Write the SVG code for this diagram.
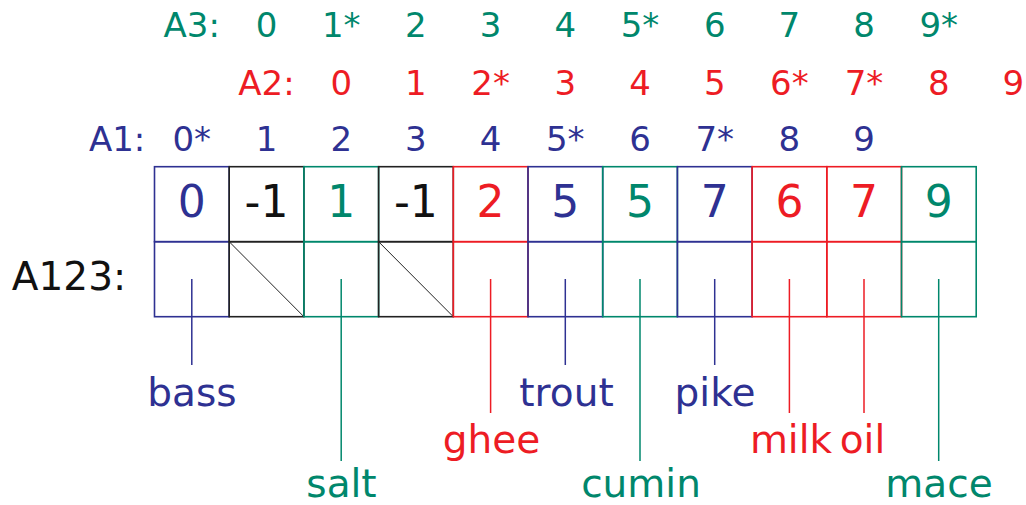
<svg xmlns="http://www.w3.org/2000/svg" width="1026" height="505" viewBox="0 0 1026 505">
<style>
text{font-family:"DejaVu Sans","Liberation Sans",sans-serif;text-anchor:middle}
.idx{font-size:34px}
.val{font-size:44px}
.lab{font-size:39px}
.b{fill:#2e3192}.g{fill:#00876c}.r{fill:#ed1c24}.k{fill:#111}
.cb{stroke:#2e3192}.cg{stroke:#00876c}.cr{stroke:#ed1c24}.ck{stroke:#222}
rect{fill:none;stroke-width:1.6}
line{stroke-width:1.5}
</style>
<g id="row-A3">
<text class="idx g" x="191.8" y="37">A3:</text>
<text class="idx g" x="266.5" y="37">0</text>
<text class="idx g" x="341.2" y="37">1*</text>
<text class="idx g" x="415.9" y="37">2</text>
<text class="idx g" x="490.6" y="37">3</text>
<text class="idx g" x="565.3" y="37">4</text>
<text class="idx g" x="640" y="37">5*</text>
<text class="idx g" x="714.7" y="37">6</text>
<text class="idx g" x="789.4" y="37">7</text>
<text class="idx g" x="864" y="37">8</text>
<text class="idx g" x="938.7" y="37">9*</text>
</g>
<g id="row-A2">
<text class="idx r" x="266.5" y="95">A2:</text>
<text class="idx r" x="341.2" y="95">0</text>
<text class="idx r" x="415.9" y="95">1</text>
<text class="idx r" x="490.6" y="95">2*</text>
<text class="idx r" x="565.3" y="95">3</text>
<text class="idx r" x="640" y="95">4</text>
<text class="idx r" x="714.7" y="95">5</text>
<text class="idx r" x="789.4" y="95">6*</text>
<text class="idx r" x="864" y="95">7*</text>
<text class="idx r" x="938.7" y="95">8</text>
<text class="idx r" x="1013.4" y="95">9</text>
</g>
<g id="row-A1">
<text class="idx b" x="117.1" y="151">A1:</text>
<text class="idx b" x="191.8" y="151">0*</text>
<text class="idx b" x="266.5" y="151">1</text>
<text class="idx b" x="341.2" y="151">2</text>
<text class="idx b" x="415.9" y="151">3</text>
<text class="idx b" x="490.6" y="151">4</text>
<text class="idx b" x="565.3" y="151">5*</text>
<text class="idx b" x="640" y="151">6</text>
<text class="idx b" x="714.7" y="151">7*</text>
<text class="idx b" x="789.4" y="151">8</text>
<text class="idx b" x="864" y="151">9</text>
</g>
<g id="label-A123"><text class="k" x="69" y="290" style="font-size:39px">A123:</text></g>
<g id="connectors">
<line class="cb" x1="191.8" y1="279" x2="191.8" y2="365"/>
<line class="cg" x1="341.2" y1="279" x2="341.2" y2="461"/>
<line class="cr" x1="490.6" y1="279" x2="490.6" y2="413"/>
<line class="cb" x1="565.3" y1="279" x2="565.3" y2="365"/>
<line class="cg" x1="640" y1="279" x2="640" y2="461"/>
<line class="cb" x1="714.7" y1="279" x2="714.7" y2="365"/>
<line class="cr" x1="789.4" y1="279" x2="789.4" y2="413"/>
<line class="cr" x1="864" y1="279" x2="864" y2="413"/>
<line class="cg" x1="938.7" y1="279" x2="938.7" y2="461"/>
</g>
<g id="cell-0"><rect class="cb" x="154.5" y="166.7" width="74.7" height="75"/><rect class="cb" x="154.5" y="241.7" width="74.7" height="75"/><text class="val b" x="191.8" y="217">0</text></g>
<g id="cell-1"><rect class="ck" x="229.2" y="166.7" width="74.7" height="75"/><rect class="ck" x="229.2" y="241.7" width="74.7" height="75"/><line class="ck" x1="229.2" y1="241.7" x2="303.9" y2="316.7" style="stroke-width:1"/><text class="val k" x="266.5" y="217">-1</text></g>
<g id="cell-2"><rect class="cg" x="303.9" y="166.7" width="74.7" height="75"/><rect class="cg" x="303.9" y="241.7" width="74.7" height="75"/><text class="val g" x="341.2" y="217">1</text></g>
<g id="cell-3"><rect class="ck" x="378.6" y="166.7" width="74.7" height="75"/><rect class="ck" x="378.6" y="241.7" width="74.7" height="75"/><line class="ck" x1="378.6" y1="241.7" x2="453.3" y2="316.7" style="stroke-width:1"/><text class="val k" x="415.9" y="217">-1</text></g>
<g id="cell-4"><rect class="cr" x="453.3" y="166.7" width="74.7" height="75"/><rect class="cr" x="453.3" y="241.7" width="74.7" height="75"/><text class="val r" x="490.6" y="217">2</text></g>
<g id="cell-5"><rect class="cb" x="528" y="166.7" width="74.7" height="75"/><rect class="cb" x="528" y="241.7" width="74.7" height="75"/><text class="val b" x="565.3" y="217">5</text></g>
<g id="cell-6"><rect class="cg" x="602.7" y="166.7" width="74.7" height="75"/><rect class="cg" x="602.7" y="241.7" width="74.7" height="75"/><text class="val g" x="640" y="217">5</text></g>
<g id="cell-7"><rect class="cb" x="677.4" y="166.7" width="74.7" height="75"/><rect class="cb" x="677.4" y="241.7" width="74.7" height="75"/><text class="val b" x="714.7" y="217">7</text></g>
<g id="cell-8"><rect class="cr" x="752.1" y="166.7" width="74.7" height="75"/><rect class="cr" x="752.1" y="241.7" width="74.7" height="75"/><text class="val r" x="789.4" y="217">6</text></g>
<g id="cell-9"><rect class="cr" x="826.8" y="166.7" width="74.7" height="75"/><rect class="cr" x="826.8" y="241.7" width="74.7" height="75"/><text class="val r" x="864" y="217">7</text></g>
<g id="cell-10"><rect class="cg" x="901.5" y="166.7" width="74.7" height="75"/><rect class="cg" x="901.5" y="241.7" width="74.7" height="75"/><text class="val g" x="938.7" y="217">9</text></g>
<g id="labels">
<text class="lab b" x="192" y="406">bass</text>
<text class="lab b" x="566.5" y="406">trout</text>
<text class="lab b" x="715" y="406">pike</text>
<text class="lab r" x="491.5" y="453">ghee</text>
<text class="lab r" x="791" y="453">milk</text>
<text class="lab r" x="862.5" y="453">oil</text>
<text class="lab g" x="341.5" y="497">salt</text>
<text class="lab g" x="641" y="497">cumin</text>
<text class="lab g" x="939" y="497">mace</text>
</g>
</svg>
